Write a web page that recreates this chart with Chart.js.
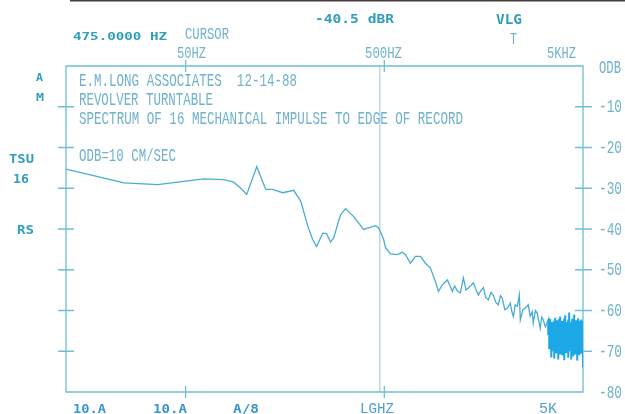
<!DOCTYPE html>
<html>
<head>
<meta charset="utf-8">
<script src="https://cdn.jsdelivr.net/npm/chart.js@4"></script>
<style>
  html, body { margin: 0; padding: 0; background: #fff; }
  canvas { display: block; }
</style>
</head>
<body>
<canvas id="spectrum" width="625" height="414"></canvas>
<script>
// main trace (Hz, dB)
const freqHz = [12.5, 24.5, 36.2, 61.7, 77.8, 87.3, 94.7, 101.5, 114, 126.5, 137, 154, 175, 190, 206, 218, 228,
  245, 256, 268, 278, 301, 319, 350, 393, 416, 451, 467, 495, 507, 537, 582, 600, 617, 639, 677, 717, 760, 805,
  853, 904, 936, 980, 1039, 1100, 1130, 1166, 1207, 1250, 1290, 1324, 1404, 1450, 1487, 1522, 1576, 1620, 1670,
  1720, 1769, 1820, 1874, 1920, 1963, 2020, 2080, 2154, 2190, 2230, 2280, 2336, 2390, 2418, 2490, 2562, 2652,
  2710, 2777, 2810, 2880, 2943, 3000, 3047, 3100, 3155, 3230, 3304];
const levelDb = [-25.3, -28.7, -29.1, -27.7, -27.9, -28.5, -30.0, -31.5, -24.7, -30.3, -30.3, -31.1, -30.5, -33.2, -39.3, -42.6, -44.3,
  -41.0, -41.1, -43.2, -42.2, -36.5, -35.0, -36.9, -40.1, -39.7, -39.2, -39.7, -42.4, -44.6, -46.1, -46.3, -46.0, -45.7, -46.3, -48.4, -46.7, -46.7, -48.4,
  -49.6, -52.9, -55.3, -53.7, -52.5, -55.3, -54.0, -55.2, -55.7, -52.0, -55.0, -54.5, -53.2, -55.0, -56.2, -55.3, -54.4, -56.8, -57.4,
  -55.6, -56.2, -58.0, -58.6, -56.4, -57.0, -59.8, -59.4, -58.2, -60.2, -61.5, -58.6, -59.0, -56.2, -62.3, -59.8, -59.4, -58.6,
  -61.4, -60.3, -63.1, -60.0, -60.7, -62.8, -64.4, -61.6, -62.3, -64.0, -63.1];

// dense noisy tail near 5 kHz: top and bottom of each sweep
const bandHz = [3342, 3381, 3420, 3460, 3500, 3541, 3582, 3624, 3666, 3709, 3752, 3796, 3840, 3885, 3930, 3976, 4022, 4069,
  4116, 4164, 4213, 4262, 4311, 4362, 4412, 4464, 4516, 4568, 4621, 4675, 4730, 4785, 4840, 4897, 4954, 5000];
const bandTop = [-62.5, -63.0, -62.0, -63.5, -62.8, -63.2, -62.5, -61.8, -63.0, -62.4, -63.6, -62.0, -61.5, -63.0, -62.6, -63.4, -62.0, -61.2,
  -62.8, -63.5, -62.2, -60.5, -62.9, -63.3, -62.0, -62.7, -61.0, -63.2, -62.4, -63.0, -61.9, -62.6, -63.2, -62.2, -62.8, -62.5];
const bandBottom = [-66.0, -69.5, -68.0, -71.5, -67.0, -70.0, -71.8, -68.5, -70.5, -67.5, -72.0, -69.0, -70.8, -68.0, -71.0, -69.5, -72.2, -68.8,
  -70.4, -67.8, -71.6, -69.2, -70.0, -72.0, -68.4, -71.2, -69.6, -70.8, -68.2, -72.3, -69.0, -71.0, -68.6, -70.6, -69.4, -74.0];

const yTicks = [0, -10, -20, -30, -40, -50, -60, -70, -80];
const yTickLabels = ["ODB", "-10", "-20", "-30", "-40", "-50", "-60", "-70", "-80"];
const decadeHz = [50, 500, 5000];
const decadeLabels = ["50HZ", "500HZ", "5KHZ"];
const cursorHz = 475;

const points = freqHz.map((f, i) => ({ x: f, y: levelDb[i] }));
bandHz.forEach((f, i) => {
  points.push({ x: f, y: bandTop[i] });
  points.push({ x: f, y: bandBottom[i] });
});

const LINE = "rgb(112,190,212)";
const THIN = "rgb(112,178,204)";
const BOLD = "rgb(48,158,186)";

// text stretched to the width it has on the plotter sheet
function fitText(ctx, txt, x0, x1, yc, cap, bold, color) {
  ctx.save();
  ctx.font = (bold ? "bold " : "") + Math.round(cap / (bold ? 0.72 : 0.62)) + "px " + (bold ? "'DejaVu Sans Mono'" : "'Liberation Mono'");
  ctx.fillStyle = color;
  ctx.textBaseline = "alphabetic";
  const w = ctx.measureText(txt).width;
  ctx.translate(x0, yc + cap / 2);
  ctx.scale((x1 - x0) / w, 1);
  ctx.fillText(txt, 0, 0);
  ctx.restore();
}

const frame = {
  id: "frame",
  beforeDatasetsDraw(chart) {
    const { ctx, scales: { x, y } } = chart;
    const L = x.getPixelForValue(12.5), R = x.getPixelForValue(5000);
    const T = y.getPixelForValue(0), B = y.getPixelForValue(-80);
    ctx.save();
    // scan edge at top
    ctx.fillStyle = "rgb(70,60,62)";
    ctx.fillRect(70, 0, 555, 1.5);

    ctx.strokeStyle = LINE;
    ctx.lineWidth = 1.3;
    ctx.beginPath();
    ctx.moveTo(L, T); ctx.lineTo(R, T); ctx.lineTo(R, B); ctx.lineTo(L, B); ctx.closePath();
    ctx.stroke();

    // cursor
    const cx = x.getPixelForValue(cursorHz);
    ctx.strokeStyle = "rgb(150,200,216)";
    ctx.lineWidth = 1;
    ctx.beginPath(); ctx.moveTo(cx, T); ctx.lineTo(cx, B); ctx.stroke();

    // cross ticks on both sides
    ctx.strokeStyle = LINE;
    ctx.lineWidth = 1.3;
    yTicks.slice(1, -1).forEach(v => {
      const py = y.getPixelForValue(v);
      ctx.beginPath();
      ctx.moveTo(L - 8, py); ctx.lineTo(L + 8, py);
      ctx.moveTo(R - 8, py); ctx.lineTo(R + 9, py);
      ctx.stroke();
    });
    decadeHz.slice(0, 2).forEach(f => {
      const px = x.getPixelForValue(f);
      ctx.beginPath();
      ctx.moveTo(px, T - 6); ctx.lineTo(px, T + 6);
      ctx.moveTo(px, B - 6); ctx.lineTo(px, B + 6);
      ctx.stroke();
    });
    ctx.restore();
  },
  afterDraw(chart) {
    const { ctx, scales: { x, y } } = chart;
    // right dB labels
    yTicks.forEach((v, i) => {
      const py = y.getPixelForValue(v);
      const lab = yTickLabels[i];
      fitText(ctx, lab, 599, 599 + (lab === "ODB" ? 22 : 23), py - (v === 0 ? -1 : 0), 11, false, THIN);
    });
    // decade labels on top
    fitText(ctx, decadeLabels[0], 177, 206, 52.5, 10, false, THIN);
    fitText(ctx, decadeLabels[1], 365, 402, 53, 10, false, THIN);
    fitText(ctx, decadeLabels[2], 547, 576, 53, 10, false, THIN);
    fitText(ctx, "CURSOR", 185, 229, 33.5, 10.5, false, THIN);
    fitText(ctx, "475.0000 HZ", 73, 167, 35.5, 8, true, BOLD);
    fitText(ctx, "-40.5 dBR", 315, 394, 18, 9.5, true, BOLD);
    fitText(ctx, "VLG", 496, 522, 19, 10, true, BOLD);
    fitText(ctx, "T", 510, 517, 38.5, 10, false, THIN);

    fitText(ctx, "A", 36, 43, 77, 7.5, true, BOLD);
    fitText(ctx, "M", 36, 44, 97.5, 7.5, true, BOLD);
    fitText(ctx, "TSU", 9, 34, 158, 9.5, true, BOLD);
    fitText(ctx, "16", 13, 29, 178, 9.5, true, BOLD);
    fitText(ctx, "RS", 17, 34, 229.5, 9, true, BOLD);

    fitText(ctx, "10.A", 73, 106, 408, 9.5, true, "rgb(60,150,200)");
    fitText(ctx, "10.A", 153, 187, 408, 9.5, true, "rgb(60,150,200)");
    fitText(ctx, "A/8", 233, 259, 408, 9.5, true, "rgb(60,150,200)");
    fitText(ctx, "LGHZ", 360, 394, 408, 9.5, false, "rgb(80,160,205)");
    fitText(ctx, "5K", 539, 557, 408, 9.5, false, "rgb(80,160,205)");

    fitText(ctx, "E.M.LONG ASSOCIATES  12-14-88", 79, 297, 80, 11.5, false, THIN);
    fitText(ctx, "REVOLVER TURNTABLE", 79, 213, 99.5, 11.5, false, THIN);
    fitText(ctx, "SPECTRUM OF 16 MECHANICAL IMPULSE TO EDGE OF RECORD", 79, 463, 118, 11.5, false, THIN);
    fitText(ctx, "ODB=10 CM/SEC", 79, 176, 155.5, 11.5, false, THIN);
  }
};

new Chart(document.getElementById("spectrum"), {
  type: "scatter",
  data: {
    datasets: [
      {
        data: points,
        showLine: true,
        borderColor: "rgb(72,172,212)",
        borderWidth: 1.3,
        pointRadius: 0,
        tension: 0,
        segment: {
          borderColor: c => (c.p0.parsed.x >= 3300 ? "rgb(28,168,230)" : undefined),
          borderWidth: c => (c.p0.parsed.x >= 3300 ? 2 : undefined),
        },
      },
    ],
  },
  options: {
    responsive: false,
    animation: false,
    layout: { padding: { left: 66, right: 42, top: 66, bottom: 22 } },
    plugins: { legend: { display: false }, tooltip: { enabled: false } },
    scales: {
      x: { type: "logarithmic", min: 12.5, max: 5000, display: false },
      y: { min: -80, max: 0, display: false },
    },
  },
  plugins: [frame],
});
</script>
</body>
</html>
